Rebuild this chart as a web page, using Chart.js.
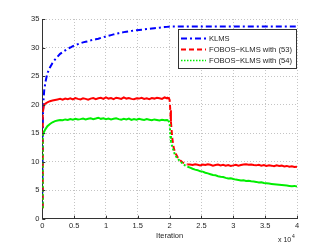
<!DOCTYPE html>
<html>
<head>
<meta charset="utf-8">
<script src="https://cdn.jsdelivr.net/npm/chart.js@4/dist/chart.umd.min.js"></script>
<style>
html,body{margin:0;padding:0;background:#fff;}
canvas{display:block;}
</style>
</head>
<body>
<canvas id="c" width="327" height="246"></canvas>
<script>
// Iteration (x 10^4)
const iter = [
0, 0.005, 0.01, 0.02, 0.03, 0.05, 0.08, 0.12, 0.16, 0.20,
0.24, 0.28, 0.32, 0.36, 0.40, 0.44, 0.48, 0.52, 0.56, 0.60,
0.64, 0.68, 0.72, 0.76, 0.80, 0.84, 0.88, 0.92, 0.96, 1.00,
1.04, 1.08, 1.12, 1.16, 1.20, 1.24, 1.28, 1.32, 1.36, 1.40,
1.44, 1.48, 1.52, 1.56, 1.60, 1.64, 1.68, 1.72, 1.76, 1.80,
1.84, 1.88, 1.92, 1.96,
1.98, 2.00, 2.01, 2.02, 2.04, 2.06, 2.08, 2.10, 2.13, 2.16, 2.20, 2.24, 2.28,
2.32, 2.36, 2.40, 2.44, 2.48, 2.52, 2.56, 2.60, 2.64, 2.68,
2.72, 2.76, 2.80, 2.84, 2.88, 2.92, 2.96, 3.00, 3.04, 3.08,
3.12, 3.16, 3.20, 3.24, 3.28, 3.32, 3.36, 3.40, 3.44, 3.48,
3.52, 3.56, 3.60, 3.64, 3.68, 3.72, 3.76, 3.80, 3.84, 3.88,
3.92, 3.96, 4.00
];

const klms = [
2, 14, 18, 21, 22.5, 24.0, 25.5, 26.5, 27.3, 27.9,
28.4, 28.9, 29.2, 29.5, 29.8, 30.0, 30.25, 30.45, 30.6, 30.75,
30.9, 31.0, 31.1, 31.25, 31.35, 31.45, 31.55, 31.7, 31.8, 31.95,
32.05, 32.18, 32.3, 32.42, 32.52, 32.62, 32.7, 32.78, 32.85, 32.92,
32.98, 33.03, 33.08, 33.13, 33.18, 33.23, 33.28, 33.33, 33.38, 33.43,
33.48, 33.53, 33.58, 33.62,
33.65, 33.68, 33.7, 33.7, 33.7, 33.7, 33.7, 33.7, 33.7, 33.7, 33.7, 33.7, 33.7,
33.7, 33.7, 33.7, 33.7, 33.7, 33.7, 33.7, 33.7, 33.7, 33.7,
33.7, 33.7, 33.7, 33.7, 33.7, 33.7, 33.7, 33.7, 33.7, 33.7,
33.7, 33.7, 33.7, 33.7, 33.7, 33.7, 33.7, 33.7, 33.7, 33.7,
33.7, 33.7, 33.7, 33.7, 33.7, 33.7, 33.7, 33.7, 33.7, 33.7,
33.7, 33.7, 33.7
];

const fobos53 = [
2, 12, 18.5, 19.6, 20.0, 20.2, 20.4, 20.6, 20.7, 20.8,
20.9, 21.0, 20.85, 21.05, 20.95, 21.1, 20.9, 21.15, 21.0, 20.9,
21.1, 21.0, 20.85, 21.05, 21.15, 20.95, 21.1, 21.2, 21.0, 21.25,
21.05, 21.15, 20.95, 21.2, 21.1, 21.0, 21.25, 21.05, 21.15, 21.0,
20.95, 21.1, 21.05, 21.2, 21.0, 21.1, 20.95, 21.15, 21.05, 21.2,
21.1, 21.0, 21.25, 21.1,
21.3, 20.8, 19.0, 17.0, 14.2, 12.6, 11.8, 11.3, 10.7, 10.3, 9.9, 9.6, 9.5,
9.5, 9.4, 9.55, 9.45, 9.35, 9.5, 9.4, 9.55, 9.45, 9.3,
9.4, 9.5, 9.35, 9.45, 9.3, 9.4, 9.25, 9.35, 9.45, 9.3,
9.4, 9.5, 9.55, 9.45, 9.5, 9.4, 9.35, 9.45, 9.3, 9.4,
9.25, 9.35, 9.3, 9.2, 9.35, 9.25, 9.3, 9.15, 9.25, 9.1,
9.2, 9.05, 9.1
];

const fobos54 = [
2, 10, 14.5, 15.0, 15.3, 15.7, 16.2, 16.6, 16.9, 17.1,
17.2, 17.3, 17.25, 17.4, 17.3, 17.45, 17.35, 17.5, 17.4, 17.45,
17.55, 17.4, 17.5, 17.6, 17.45, 17.55, 17.7, 17.5, 17.6, 17.45,
17.55, 17.4, 17.5, 17.6, 17.45, 17.35, 17.5, 17.4, 17.55, 17.3,
17.45, 17.35, 17.5, 17.4, 17.3, 17.45, 17.35, 17.25, 17.4, 17.3,
17.2, 17.35, 17.25, 17.3,
17.2, 16.8, 14.6, 13.6, 12.6, 12.0, 11.3, 10.9, 10.5, 10.1, 9.7, 9.35, 9.1,
8.95, 8.75, 8.6, 8.5, 8.3, 8.25, 8.05, 7.95, 7.8, 7.65,
7.6, 7.45, 7.35, 7.3, 7.15, 7.05, 7.1, 6.95, 6.85, 6.8,
6.7, 6.75, 6.6, 6.65, 6.55, 6.5, 6.45, 6.35, 6.4, 6.25,
6.2, 6.15, 6.1, 6.05, 6.0, 5.95, 5.9, 5.85, 5.8, 5.75,
5.7, 5.75, 5.65
];

const seriesNames = ['KLMS', 'FOBOS\u2212KLMS with (53)', 'FOBOS\u2212KLMS with (54)'];
const xTicks = [0, 0.5, 1, 1.5, 2, 2.5, 3, 3.5, 4];
const xTickLabels = ['0', '0.5', '1', '1.5', '2', '2.5', '3', '3.5', '4'];
const yTicks = [0, 5, 10, 15, 20, 25, 30, 35];

const FONT = '"Liberation Sans", Arial, Helvetica, sans-serif';
const TXT = '#262626';
const pts = arr => iter.map((x, i) => ({x: x, y: arr[i]}));

const dashBlue = [6, 3, 2, 3];
const dashRed = [5, 3];
const dashGreen = [1.5, 1.5];

const dashedWhere = (dash) => (ctx) => {
  const a = ctx.p0.parsed.x, b = ctx.p1.parsed.x;
  if (b <= 0.02) return dash;
  if (a >= 1.98 && b <= 2.3) return dash;
  return undefined;
};

const legendPlugin = {
  id: 'boxLegend',
  afterDatasetsDraw(chart) {
    const ctx = chart.ctx;
    const x0 = 178.5, y0 = 29.5, w = 118, h = 39;
    ctx.save();
    ctx.fillStyle = '#fff';
    ctx.fillRect(x0, y0, w, h);
    ctx.strokeStyle = '#333';
    ctx.lineWidth = 1;
    ctx.setLineDash([]);
    ctx.strokeRect(x0, y0, w, h);
    const rows = [
      {y: 38.5, color: '#0000ff', dash: dashBlue, lw: 2},
      {y: 49.5, color: '#ff0000', dash: dashRed, lw: 2},
      {y: 60.5, color: '#00ee00', dash: dashGreen, lw: 1.5}
    ];
    rows.forEach((r, i) => {
      ctx.beginPath();
      ctx.setLineDash(r.dash);
      ctx.strokeStyle = r.color;
      ctx.lineWidth = r.lw;
      ctx.moveTo(181, r.y);
      ctx.lineTo(206, r.y);
      ctx.stroke();
      ctx.setLineDash([]);
      ctx.fillStyle = TXT;
      ctx.font = '7.6px ' + FONT;
      ctx.textBaseline = 'middle';
      ctx.textAlign = 'left';
      ctx.fillText(seriesNames[i], 209, r.y);
    });
    ctx.restore();
  },
  afterDraw(chart) {
    const ctx = chart.ctx;
    const xs = chart.scales.x, ys = chart.scales.y;
    const ca = chart.chartArea;
    ctx.save();
    ctx.strokeStyle = '#333';
    ctx.lineWidth = 1;
    ctx.setLineDash([]);
    ctx.beginPath();
    xTicks.forEach(v => {
      const px = Math.round(xs.getPixelForValue(v)) + 0.5;
      ctx.moveTo(px, ca.bottom);
      ctx.lineTo(px, ca.bottom - 3);
    });
    yTicks.forEach(v => {
      const py = Math.round(ys.getPixelForValue(v)) + 0.5;
      ctx.moveTo(ca.left, py);
      ctx.lineTo(ca.left + 3, py);
    });
    ctx.stroke();
    // exponent label
    ctx.fillStyle = TXT;
    ctx.textBaseline = 'middle';
    ctx.textAlign = 'left';
    ctx.font = '7px ' + FONT;
    ctx.fillText('x 10', 278, 240.5);
    ctx.font = '5px ' + FONT;
    ctx.fillText('4', 292, 236.5);
    ctx.restore();
  }
};

new Chart(document.getElementById('c'), {
  type: 'line',
  data: {
    datasets: [
      {
        label: seriesNames[0], data: pts(klms), order: 2,
        borderColor: '#0000ff', borderWidth: 2, borderDash: dashBlue,
        pointRadius: 0, tension: 0, fill: false
      },
      {
        label: seriesNames[1], data: pts(fobos53), order: 1,
        borderColor: '#ff0000', borderWidth: 2,
        pointRadius: 0, tension: 0, fill: false,
        segment: { borderDash: dashedWhere(dashRed) }
      },
      {
        label: seriesNames[2], data: pts(fobos54), order: 0,
        borderColor: '#00ee00', borderWidth: 2,
        pointRadius: 0, tension: 0, fill: false,
        segment: { borderDash: dashedWhere([2, 2]) }
      }
    ]
  },
  options: {
    responsive: false,
    animation: false,
    devicePixelRatio: 1,
    layout: { padding: { left: 0, right: 30, top: 19, bottom: 0 } },
    plugins: { legend: { display: false }, tooltip: { enabled: false } },
    scales: {
      x: {
        type: 'linear', min: 0, max: 4,
        afterBuildTicks: (s) => { s.ticks = xTicks.map(v => ({value: v})); },
        afterFit: (s) => { s.height = 27.3; },
        grid: { color: '#c4c4c4', lineWidth: 1, drawTicks: false },
        border: { display: true, color: '#333', width: 1, dash: [1, 2] },
        ticks: {
          color: TXT, font: { family: FONT, size: 7.5 }, padding: 3, maxRotation: 0,
          callback: (v) => { const i = xTicks.indexOf(v); return i >= 0 ? xTickLabels[i] : ''; }
        },
        title: { display: true, text: 'Iteration', color: TXT, font: { family: FONT, size: 7.5 }, padding: { top: 0, bottom: 6 } }
      },
      y: {
        type: 'linear', min: 0, max: 35,
        afterBuildTicks: (s) => { s.ticks = yTicks.map(v => ({value: v})); },
        afterFit: (s) => { s.width = 42.3; },
        grid: { color: '#c4c4c4', lineWidth: 1, drawTicks: false },
        border: { display: true, color: '#333', width: 1, dash: [1, 2] },
        ticks: { color: TXT, font: { family: FONT, size: 7.5 }, padding: 3, callback: (v) => String(v) }
      }
    }
  },
  plugins: [legendPlugin]
});
</script>
</body>
</html>
